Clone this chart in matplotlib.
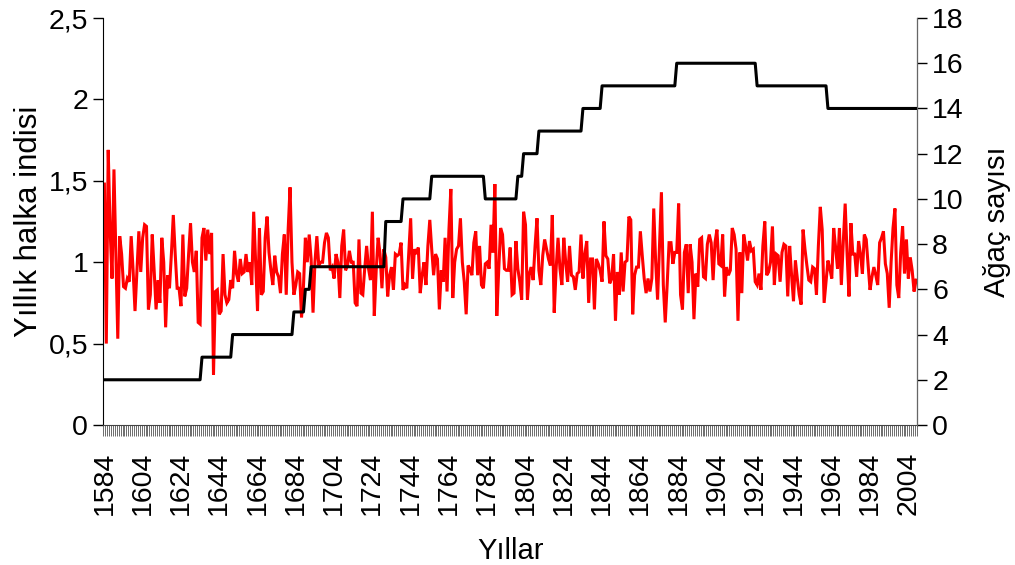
import numpy as np
import matplotlib
matplotlib.use('Agg')
import matplotlib.pyplot as plt

# ---------------- data ----------------
first_year = 1584
last_year = 2008

ring_index = [
    1.48, 0.50, 1.69, 1.20, 0.90, 1.57, 1.05, 0.53, 1.16, 1.05,
    0.85, 0.84, 0.90, 0.88, 1.16, 0.95, 0.70, 0.95, 1.19, 0.94,
    1.15, 1.23, 1.22, 0.71, 0.80, 1.17, 0.95, 0.71, 0.89, 0.75,
    1.15, 1.00, 0.60, 0.92, 0.84, 1.05, 1.29, 1.05, 0.84, 0.84,
    0.73, 1.17, 0.79, 0.84, 1.05, 1.24, 1.00, 0.94, 1.07, 0.63,
    0.62, 1.15, 1.21, 1.01, 1.20, 1.05, 1.18, 0.31, 0.82, 0.83,
    0.68, 0.70, 1.05, 0.80, 0.75, 0.77, 0.89, 0.84, 1.07, 0.93,
    0.88, 1.02, 0.93, 0.94, 1.05, 0.94, 1.00, 0.86, 1.31, 1.00,
    0.70, 1.21, 0.80, 0.82, 1.15, 1.28, 1.06, 0.95, 0.86, 1.04,
    0.94, 0.91, 0.81, 1.05, 1.17, 0.80, 1.20, 1.46, 1.00, 0.80,
    0.86, 0.94, 0.93, 0.66, 0.85, 1.15, 1.00, 1.17, 1.02, 0.69,
    1.00, 1.16, 0.98, 1.00, 1.00, 1.12, 1.18, 1.15, 0.95, 0.97,
    0.90, 1.05, 1.00, 0.78, 1.10, 1.20, 0.95, 0.98, 1.07, 1.00,
    1.00, 0.75, 0.73, 1.14, 0.81, 0.80, 0.96, 1.10, 0.96, 0.89,
    1.31, 0.67, 0.95, 1.15, 1.05, 0.84, 1.08, 1.03, 0.79, 0.92,
    0.97, 0.83, 1.05, 1.04, 1.05, 1.12, 0.83, 0.86, 0.84, 1.05,
    1.27, 0.90, 1.08, 1.05, 1.09, 0.81, 0.92, 1.00, 0.86, 1.10,
    1.26, 1.08, 0.92, 1.05, 1.02, 0.71, 0.95, 0.88, 1.15, 0.82,
    1.20, 1.45, 0.78, 1.00, 1.08, 1.10, 1.27, 1.00, 0.88, 0.68,
    0.98, 0.96, 0.92, 1.12, 1.19, 0.92, 1.10, 0.86, 0.84, 0.99,
    1.00, 0.96, 1.23, 1.06, 1.48, 0.67, 0.95, 1.21, 1.17, 0.96,
    0.95, 0.95, 1.09, 0.80, 0.81, 1.13, 0.96, 0.88, 0.77, 1.31,
    1.23, 0.77, 0.93, 0.97, 0.89, 1.10, 1.27, 0.95, 0.86, 1.04,
    1.14, 1.08, 1.02, 0.98, 1.29, 0.69, 0.96, 1.15, 0.96, 0.86,
    1.15, 1.00, 0.88, 1.10, 0.92, 0.91, 0.83, 0.93, 0.94, 1.17,
    0.90, 1.05, 1.13, 0.75, 1.02, 1.02, 0.71, 1.02, 0.99, 0.95,
    0.88, 1.25, 1.04, 1.02, 0.87, 0.90, 1.05, 0.64, 0.94, 0.80,
    1.06, 0.82, 1.00, 1.01, 1.28, 1.26, 0.68, 0.92, 0.97, 0.97,
    1.19, 1.04, 0.90, 0.81, 0.90, 0.82, 0.90, 1.33, 1.00, 0.77,
    1.10, 1.43, 0.86, 0.63, 0.86, 1.12, 1.12, 0.99, 1.06, 1.06,
    1.36, 0.80, 0.71, 1.06, 1.11, 0.81, 1.11, 1.00, 0.65, 0.93,
    0.85, 1.14, 1.15, 0.91, 0.90, 1.11, 1.17, 1.12, 0.89, 1.12,
    1.20, 0.99, 0.98, 1.17, 0.79, 0.97, 0.92, 0.95, 1.21, 1.17,
    1.08, 0.64, 1.06, 0.81, 1.17, 1.10, 1.01, 1.13, 1.07, 1.08,
    0.88, 0.86, 0.93, 0.83, 1.10, 1.25, 0.92, 0.94, 1.00, 1.22,
    0.86, 1.05, 1.04, 0.88, 1.06, 1.11, 1.10, 0.79, 1.10, 0.92,
    0.76, 1.01, 0.90, 0.80, 0.74, 1.20, 1.08, 0.98, 0.89, 0.88,
    0.97, 0.96, 0.80, 1.10, 1.34, 1.20, 0.75, 0.88, 1.01, 0.96,
    0.90, 1.21, 1.09, 0.96, 1.21, 0.86, 1.12, 1.36, 1.05, 0.79,
    1.24, 1.05, 1.05, 0.91, 1.13, 1.05, 0.93, 1.17, 1.14, 0.98,
    0.83, 0.91, 0.97, 0.92, 0.86, 1.12, 1.15, 1.19, 0.99, 0.93,
    0.72, 1.00, 1.21, 1.33, 0.86, 0.78, 1.06, 1.22, 0.93, 1.14,
    0.90, 1.03, 0.95, 0.82, 0.89,
]

# sample depth (number of trees): year where each level starts
depth_start_years = [1584, 1635, 1651, 1683, 1689, 1692, 1731, 1740, 1755,
                     1783, 1800, 1803, 1811, 1834, 1844, 1883, 1925, 1962]
depth_values = [2, 3, 4, 5, 6, 7, 9, 10, 11,
                10, 11, 12, 13, 14, 15, 16, 15, 14]

label_years = list(range(1584, 2005, 20))
left_ticks = [0, 0.5, 1, 1.5, 2, 2.5]
left_tick_labels = ['0', '0,5', '1', '1,5', '2', '2,5']
right_ticks = list(range(0, 19, 2))

xlabel = 'Yıllar'
ylabel_left = 'Yıllık halka indisi'
ylabel_right = 'Ağaç sayısı'

# ---------------- build ----------------
years = np.arange(first_year, last_year + 1)
ring = np.array(ring_index)
depth = np.zeros(len(years))
for y0, v in zip(depth_start_years, depth_values):
    depth[years >= y0] = v

plt.rcParams['font.family'] = ['Liberation Sans', 'DejaVu Sans']

fig = plt.figure(figsize=(10.15, 5.65), dpi=100)
ax = fig.add_axes([0.1019, 0.2478, 0.8015, 0.7203])
ax2 = ax.twinx()

ax.plot(years, ring, color='#ff0000', lw=2.2, solid_joinstyle='miter')
ax2.plot(years, depth, color='black', lw=2.2)

ax.set_xlim(first_year - 0.5, last_year + 0.5)
ax.set_ylim(0, 2.5)
ax2.set_ylim(0, 18)

TICK_FS = 20.5

# y axes
ax.set_yticks(left_ticks)
ax.set_yticklabels(left_tick_labels, fontsize=TICK_FS)
ax.tick_params(axis='y', direction='out', length=7, width=1, pad=4)
ax2.set_yticks(right_ticks)
ax2.set_yticklabels([str(t) for t in right_ticks], fontsize=TICK_FS)
ax2.tick_params(axis='y', direction='out', length=7, width=1, pad=4)

# x axis: tick marks between every year, labels every 20 years
ax.set_xticks(label_years)
ax.set_xticklabels([str(y) for y in label_years], rotation=90, fontsize=TICK_FS)
ax.set_xticks(np.arange(first_year - 0.5, last_year + 1.0, 1), minor=True)
ax.tick_params(axis='x', which='major', length=0, pad=19)
ax.tick_params(axis='x', which='minor', direction='out', length=8, width=0.6,
               color='#555555')

for a in (ax, ax2):
    a.spines['top'].set_visible(False)
ax.spines['left'].set_color('black')
ax.spines['bottom'].set_color('#444444')
ax2.spines['right'].set_color('#666666')
ax2.spines['left'].set_visible(False)
ax2.spines['bottom'].set_visible(False)

ax.set_xlabel(xlabel, fontsize=21, labelpad=16)
ax.set_ylabel(ylabel_left, fontsize=22.5, labelpad=3)
ax2.set_ylabel(ylabel_right, fontsize=21, labelpad=14)

fig.savefig('out.png', dpi=100)
